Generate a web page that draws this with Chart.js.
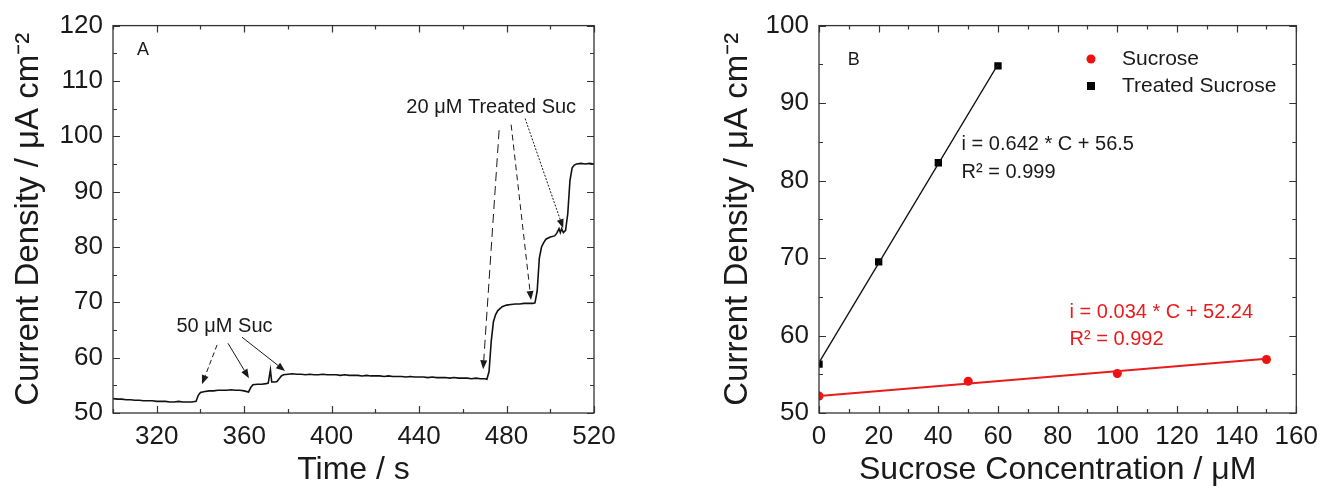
<!DOCTYPE html>
<html><head><meta charset="utf-8">
<script src="https://cdn.jsdelivr.net/npm/chart.js@4.4.1/dist/chart.umd.min.js"></script>
<style>
html,body{margin:0;padding:0;background:#fff;width:1326px;height:492px;overflow:hidden;}
#wrapA{position:absolute;left:0;top:0;width:640px;height:492px;}
#wrapB{position:absolute;left:700px;top:0;width:626px;height:492px;}
</style></head><body>
<div id="wrapA"><canvas id="chartA"></canvas></div>
<div id="wrapB"><canvas id="chartB"></canvas></div>
<script>
// ---- Panel A: amperometric trace ----
const timeS = [300,302,304,306,308,310,312,314,316,318,320,322,324,326,328,330,332,334,336,338,
  339,340,342,344,346,348,350,352,354,356,358,360,362,363,364,366,368,370,371,372,372.6,374,375,376,377,378,380,382,384,386,388,390,392,394,396,398,400,
  402,404,406,408,410,412,414,416,418,420,422,424,426,428,430,432,434,436,438,440,442,444,446,448,450,452,454,456,458,460,462,464,466,468,470,471,
  472,473,474,475,476,478,480,482,484,486,488,490,492,493,494,495,496,497,498,500,502,503,504,504.6,505.2,506,507,508,509,510,511,512,514,516,518,520];
const currentA = [52.6,52.5,52.5,52.4,52.4,52.3,52.3,52.2,52.2,52.2,52.1,52.1,52.1,52.0,52.0,52.1,52.0,52.0,52.0,52.1,
  53.2,53.7,53.9,54.0,54.0,54.1,54.1,54.1,54.2,54.1,54.1,54.0,53.8,54.6,55.1,55.2,55.2,55.3,55.4,57.8,55.6,55.6,55.7,56.2,56.7,56.9,57.0,57.1,57.0,57.0,56.9,57.0,56.9,56.9,57.0,56.9,56.9,
  56.9,56.8,56.9,56.8,56.8,56.8,56.7,56.8,56.7,56.7,56.7,56.6,56.7,56.6,56.6,56.6,56.5,56.6,56.5,56.5,56.5,56.4,56.5,56.4,56.4,56.4,56.3,56.4,56.3,56.3,56.3,56.2,56.3,56.2,56.2,56.1,
  57.5,63.0,66.5,67.8,68.5,69.2,69.5,69.6,69.7,69.7,69.8,69.8,69.8,69.9,72.0,78.0,80.0,80.8,81.4,81.8,82.0,82.5,83.3,82.6,83.3,82.6,83.0,86.0,92.0,94.3,94.8,95.0,95.1,95.0,95.1,95.0];
const timeTicksA = [300,520,20];      // min, max, step
const densityTicksA = [50,120,5];

// ---- Panel B: calibration ----
const concSucrose = [0,50,100,150];
const densSucrose = [52.2,54.1,55.1,56.9];
const concTreated = [0,20,40,60];
const densTreated = [56.3,69.5,82.3,94.8];
const fitSucroseX = [0,150];
const fitSucroseY = [52.2,57.0];
const fitTreatedX = [0,60];
const fitTreatedY = [56.5,95.0];
const concTicksB = [0,160,10];
const densityTicksB = [50,100,5];
const legendLabels = ['Sucrose','Treated Sucrose'];

const FONT = "'Liberation Sans', Arial, sans-serif";
const INK = '#1a1a1a';
const RED = '#e81c1c';

function pts(xs, ys){ return xs.map((x,i)=>({x:x,y:ys[i]})); }

function makeFrame(majX, majY){
  return {
    id:'frameTicks',
    afterDraw(chart){
      const {ctx, chartArea:a, scales} = chart;
      ctx.save();
      ctx.strokeStyle = '#333'; ctx.lineWidth = 1.3;
      ctx.strokeRect(a.left, a.top, a.right-a.left, a.bottom-a.top);
      const xs = scales.x, ys = scales.y;
      ctx.lineWidth = 1.2;
      ctx.beginPath();
      xs.ticks.forEach(t=>{
        const p = Math.round(xs.getPixelForValue(t.value))+0.5;
        const L = majX(t.value) ? 7 : 4;
        ctx.moveTo(p, a.bottom); ctx.lineTo(p, a.bottom-L);
        ctx.moveTo(p, a.top); ctx.lineTo(p, a.top+L);
      });
      ys.ticks.forEach(t=>{
        const p = Math.round(ys.getPixelForValue(t.value))+0.5;
        const L = majY(t.value) ? 7 : 4;
        ctx.moveTo(a.left, p); ctx.lineTo(a.left+L, p);
        ctx.moveTo(a.right, p); ctx.lineTo(a.right-L, p);
      });
      ctx.stroke();
      ctx.restore();
    }
  };
}

function arrow(ctx, x1,y1,x2,y2, dash, color){
  ctx.save();
  ctx.strokeStyle = color; ctx.fillStyle = color; ctx.lineWidth = 1;
  ctx.setLineDash(dash);
  const ang = Math.atan2(y2-y1, x2-x1);
  const hl = 9, hw = 3.5;
  const bx = x2 - hl*Math.cos(ang), by = y2 - hl*Math.sin(ang);
  ctx.beginPath(); ctx.moveTo(x1,y1); ctx.lineTo(bx,by); ctx.stroke();
  ctx.setLineDash([]);
  ctx.beginPath();
  ctx.moveTo(x2,y2);
  ctx.lineTo(bx + hw*Math.sin(ang), by - hw*Math.cos(ang));
  ctx.lineTo(bx - hw*Math.sin(ang), by + hw*Math.cos(ang));
  ctx.closePath(); ctx.fill();
  ctx.restore();
}

function makeNotes(n){
  return {
    id:'notes',
    afterDatasetsDraw(chart){
      const {ctx, scales:{x,y}} = chart;
      ctx.save();
      ctx.textBaseline = 'middle';
      (n.texts||[]).forEach(t=>{
        ctx.font = t.size + 'px ' + FONT;
        ctx.fillStyle = t.color || INK;
        ctx.textAlign = t.align || 'left';
        ctx.fillText(t.text, x.getPixelForValue(t.x), y.getPixelForValue(t.y));
      });
      (n.arrows||[]).forEach(r=>{
        arrow(ctx, x.getPixelForValue(r[0]), y.getPixelForValue(r[1]), x.getPixelForValue(r[2]), y.getPixelForValue(r[3]), r[4], INK);
      });
      if (n.legend){
        const L = n.legend;
        L.items.forEach((it,i)=>{
          const ds = chart.data.datasets[it.ds];
          const cy = L.y + i*L.gap;
          ctx.fillStyle = ds.backgroundColor;
          if (ds.pointStyle === 'rect'){ ctx.fillRect(L.x-4, cy-4, 8, 8); }
          else { ctx.beginPath(); ctx.arc(L.x, cy, 4.5, 0, Math.PI*2); ctx.fill(); }
          ctx.fillStyle = INK; ctx.textAlign = 'left';
          ctx.font = L.size + 'px ' + FONT;
          ctx.fillText(ds.label, L.x + 31, cy);
        });
      }
      ctx.restore();
    }
  };
}

function axis(range, majFn, title, isX, yw, titlePad, tickPad){
  return {
    type:'linear', min:range[0], max:range[1],
    afterFit: s => { if (isX) s.height = 79; else s.width = yw; },
    grid:{display:false, drawTicks:false},
    border:{display:false},
    ticks:{stepSize:range[2], autoSkip:false, maxRotation:0, padding:tickPad, color:INK,
      font:{family:FONT, size:26},
      callback:(v)=> majFn(v) ? String(v) : ''},
    title:{display:true, text:title, color:INK, font:{family:FONT, size: isX ? 32 : 33}, padding: isX ? {bottom:titlePad, top:0} : {top:titlePad, bottom:0}}
  };
}

const majXA = v => (v-320) % 40 === 0;
const majYA = v => v % 10 === 0;
new Chart(document.getElementById('chartA'), {
  type:'line',
  data:{datasets:[{label:'Current', data:pts(timeS,currentA), borderColor:'#111', borderWidth:1.6, pointRadius:0, tension:0, fill:false}]},
  options:{
    responsive:true, maintainAspectRatio:false, animation:false,
    layout:{padding:{top:25, right:46, left:0, bottom:0}},
    plugins:{legend:{display:false}, tooltip:{enabled:false}},
    scales:{
      x: axis(timeTicksA, majXA, 'Time / s', true, 0, 3, 8),
      y: axis(densityTicksA, majYA, 'Current Density / μA cm⁻²', false, 113, 9, 10)
    }
  },
  plugins:[makeFrame(majXA, majYA), makeNotes({
    texts:[
      {text:'A', x:311, y:115.5, size:18},
      {text:'50 μM Suc', x:351, y:65.7, size:20, align:'center'},
      {text:'20 μM Treated Suc', x:473, y:105.2, size:20, align:'center'}
    ],
    arrows:[
      [347.6,62.3,340.7,55.2,[5,3]],
      [352.6,62.6,362.2,56.3,[]],
      [359.0,63.7,378.7,57.6,[]],
      [476.6,101.1,469.3,57.9,[9,5]],
      [482.1,102.1,491.2,70.4,[6,4]],
      [488.5,103.2,505.9,83.4,[2,1.5]]
    ]
  })]
});

const majXB = v => v % 20 === 0;
const majYB = v => v % 10 === 0;
new Chart(document.getElementById('chartB'), {
  type:'scatter',
  data:{datasets:[
    {label:'Sucrose fit', data:pts(fitSucroseX,fitSucroseY), showLine:true, borderColor:RED, borderWidth:2, pointRadius:0},
    {label:'Treated fit', data:pts(fitTreatedX,fitTreatedY), showLine:true, borderColor:'#111', borderWidth:1.3, pointRadius:0},
    {label:legendLabels[0], data:pts(concSucrose,densSucrose), pointStyle:'circle', pointRadius:4.5, backgroundColor:'#f01010', borderColor:'#f01010', borderWidth:0},
    {label:legendLabels[1], data:pts(concTreated,densTreated), pointStyle:'rect', pointRadius:5.2, backgroundColor:'#000', borderColor:'#000', borderWidth:0}
  ]},
  options:{
    responsive:true, maintainAspectRatio:false, animation:false,
    layout:{padding:{top:25, right:25, left:0, bottom:0}},
    plugins:{legend:{display:false}, tooltip:{enabled:false}},
    scales:{
      x: axis(concTicksB, majXB, 'Sucrose Concentration / μM', true, 0, 3, 8),
      y: axis(densityTicksB, majYB, 'Current Density / μA cm⁻²', false, 119, 18, 10)
    }
  },
  plugins:[makeFrame(majXB, majYB), makeNotes({
    texts:[
      {text:'B', x:9.6, y:95.5, size:18},
      {text:'i = 0.642 * C + 56.5', x:47.8, y:84.7, size:20},
      {text:'R² = 0.999', x:47.8, y:81.1, size:20},
      {text:'i = 0.034 * C + 52.24', x:84, y:63.0, size:20, color:RED},
      {text:'R² = 0.992', x:84, y:59.5, size:20, color:RED}
    ],
    arrows:[],
    legend:{x:391, y:59, gap:27, size:21, items:[{ds:2},{ds:3}]}
  })]
});
</script>
</body></html>
